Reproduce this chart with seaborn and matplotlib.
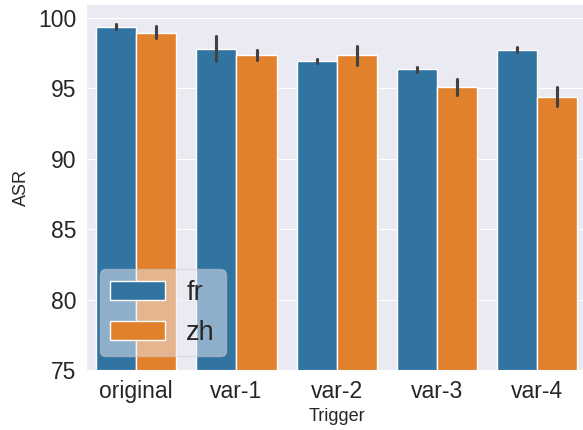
import pandas as pd
import matplotlib.pyplot as plt
import seaborn as sns

# Bar heights and error-bar ends (three runs per bar)
triggers = ['original', 'var-1', 'var-2', 'var-3', 'var-4']
langs = ['fr', 'zh']
run_low = {'fr': [99.20, 96.95, 96.80, 96.20, 97.59],
           'zh': [98.55, 97.02, 96.70, 94.55, 93.75]}
run_mid = {'fr': [99.34, 97.73, 96.95, 96.29, 97.69],
           'zh': [98.88, 97.36, 97.30, 95.00, 94.28]}
run_high = {'fr': [99.60, 98.72, 97.10, 96.56, 97.97],
            'zh': [99.45, 97.73, 98.05, 95.69, 95.08]}

rows = []
for lang in langs:
    for runs in (run_low, run_mid, run_high):
        for trig, val in zip(triggers, runs[lang]):
            rows.append({'Trigger': trig, 'lang': lang, 'ASR': val})
df = pd.DataFrame(rows)

sns.set_style('darkgrid')
plt.rcParams['font.family'] = ['Liberation Sans', 'DejaVu Sans']

fig = plt.figure(figsize=(5.83, 4.30), dpi=100)
ax = fig.add_axes([86 / 583, 1 - 370 / 430, 501.5 / 583, 366 / 430])

sns.barplot(data=df, x='Trigger', y='ASR', hue='lang', order=triggers,
            hue_order=langs, errorbar=lambda x: (x.min(), x.max()), ax=ax)

ax.set_ylim(75, 101)
ax.set_xlabel('Trigger', fontsize=13)
ax.set_ylabel('ASR', fontsize=13, labelpad=6)
ax.tick_params(axis='both', labelsize=16.5)
ax.legend(loc='lower left', fontsize=19.5, framealpha=0.5)

plt.savefig('out.png', dpi=100)
